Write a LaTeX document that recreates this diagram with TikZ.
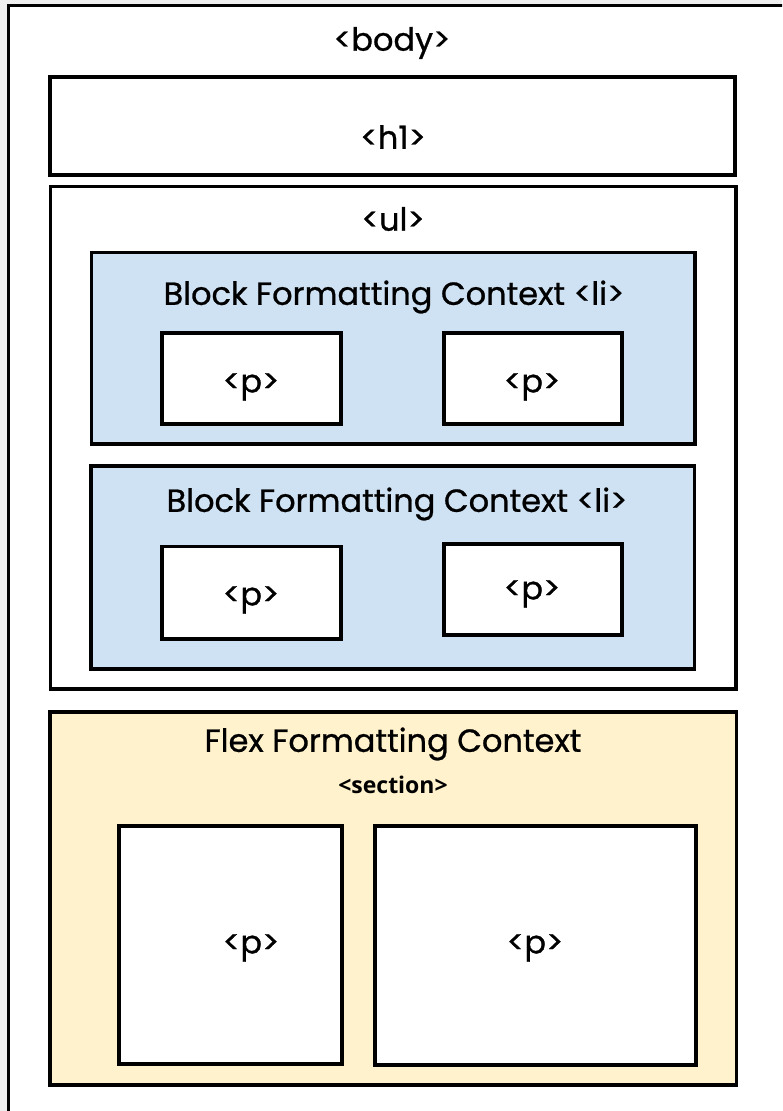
\documentclass[tikz,border=0pt]{standalone}
\usepackage{fontspec}
\setmainfont{Poppins}[FakeBold=0.8]
\newfontfamily\tagfont{Open Sans}
\begin{document}
\begin{tikzpicture}[x=1pt,y=-1pt,
  frame/.style={draw=black,line width=3.3pt,inner sep=0pt,outer sep=0pt,rectangle},
  plain/.style={frame,fill=white},
  bfc/.style={frame,fill=bfcblue},
  ffc/.style={frame,fill=ffcyellow},
  label/.style={inner sep=0pt,font=\fontsize{32}{38}\selectfont},
  title/.style={inner sep=0pt,font=\fontsize{32}{38}\selectfont},
  tagname/.style={inner sep=0pt,font=\tagfont\bfseries\fontsize{23}{28}\selectfont}]
\definecolor{bfcblue}{HTML}{CFE2F3}
\definecolor{ffcyellow}{HTML}{FFF2CC}
\definecolor{pagegray}{HTML}{EEEEEE}
\useasboundingbox (0,0) rectangle (782,1111);
\fill[pagegray] (0,0) rectangle (782,1111);
\clip (0,0) rectangle (782,1111);

% body runs past the right and bottom edges
\node[plain,anchor=north west,minimum width=900,minimum height=1200] (body) at (8.5,5.5) {};
\node[label] (bodyt) at (392,43) {<body>};

% heading
\node[plain,minimum width=685,minimum height=98] (h1) at (392.5,126) {};
\node[label] (h1t) at (393,137) {<h1>};

% list with two block formatting contexts
\node[plain,minimum width=685.5,minimum height=502.5] (ul) at (393.25,437.75) {};
\node[label] (ult) at (393,219) {<ul>};

\node[bfc,minimum width=603.5,minimum height=191.5] (li1) at (393.25,348.25) {};
\node[title] (li1t) at (394,297) {Block Formatting Context <li>};
\node[plain,minimum width=179,minimum height=91] (p11) at (251.5,378.5) {};
\node[plain,minimum width=178,minimum height=91] (p12) at (533,378.5) {};
\node[label] (p11t) at (251,387) {<p>};
\node[label] (p12t) at (532,387) {<p>};

\node[bfc,minimum width=603.5,minimum height=203] (li2) at (392.75,567.5) {};
\node[title] (li2t) at (397,504) {Block Formatting Context <li>};
\node[plain,minimum width=179,minimum height=92.5] (p21) at (251.5,592.75) {};
\node[plain,minimum width=178,minimum height=91] (p22) at (533,589.5) {};
\node[label] (p21t) at (251,600) {<p>};
\node[label] (p22t) at (532,594) {<p>};

% flex formatting context
\node[ffc,minimum width=686.5,minimum height=373] (flex) at (393.25,898.5) {};
\node[title] (flext) at (393,744) {Flex Formatting Context};
\node[tagname] (sect) at (393,785) {<section>};
\node[plain,minimum width=223,minimum height=238] (fp1) at (230.5,945) {};
\node[plain,minimum width=321,minimum height=239] (fp2) at (535.5,945.5) {};
\node[label] (fp1t) at (251,948) {<p>};
\node[label] (fp2t) at (535,948) {<p>};
\end{tikzpicture}
\end{document}
